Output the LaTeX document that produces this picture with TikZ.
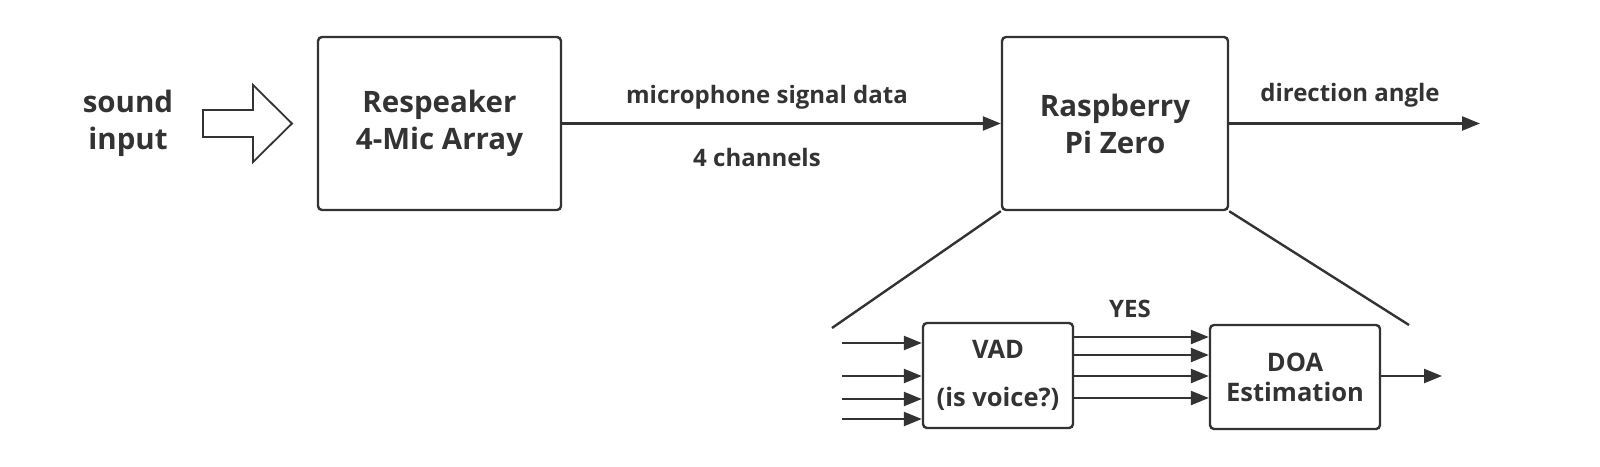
\documentclass[tikz,border=0pt]{standalone}
\usepackage{fontspec}
\setmainfont{Open Sans}
\usepackage{tikz}
\usetikzlibrary{arrows.meta}
\definecolor{ink}{HTML}{333333}

\begin{document}
\begin{tikzpicture}[x=1pt, y=-1pt, line width=2.4pt, draw=ink, text=ink,
		block/.style = {draw, rounded corners=4pt, align=center, font=\bfseries\fontsize{29.5}{37}\selectfont},
		small/.style = {draw, rounded corners=4pt, align=center, font=\bfseries\fontsize{25.5}{30}\selectfont},
		lbl/.style = {font=\bfseries\fontsize{24}{28}\selectfont},
		sig/.style = {-{Triangle[length=18pt, width=14pt]}}]
			\useasboundingbox (0,0) rectangle (1600,466);

			\node [block, minimum width=243, minimum height=173] (resp) at (439.5,123.5) {Respeaker\\4-Mic Array};
			\node [block, minimum width=226, minimum height=173] (rpi) at (1115,123.5) {Raspberry\\Pi Zero};
			\node [align=center, font=\bfseries\fontsize{29.5}{37}\selectfont] (snd) at (128,123.5) {sound\\input};

			\node [small, minimum width=150, minimum height=105, font=\bfseries\fontsize{25.5}{48}\selectfont] (vad) at (998,375.5) {VAD\\(is voice?)};
			\node [small, minimum width=170, minimum height=104] (doa) at (1295,377) {DOA\\Estimation};

			% hollow input arrow
			\draw [line width=1.8pt] (203,110) -- (253,110) -- (253,85) -- (292,123.5) -- (253,162) -- (253,137) -- (203,137) -- cycle;

			\coordinate (out) at (1480,123.5);
			\coordinate (res) at (1442,376);
			\coordinate (zl) at (832,328);
			\coordinate (zr) at (1409,325);

			\begin{scope}[sig]
				\draw (resp) -- (rpi);
				\draw (rpi) -- (out);
				\draw (doa.east |- res) -- (res);
				\foreach \y [count=\i] in {343,376,399,419}
				{
					\coordinate (in\i) at (842,\y);
					\draw (in\i) -- (in\i -| vad.west);
				}
				\foreach \y in {337,355,376,398}
					\draw (vad.east |- 0,\y) -- (doa.west |- 0,\y);
			\end{scope}

			\draw (rpi.south west) -- (zl);
			\draw (rpi.south east) -- (zr);

			\node [lbl] (mic) at (767,97) {microphone signal data};
			\node [lbl] (ch) at (757,157) {4 channels};
			\node [lbl] (dir) at (1350,95) {direction angle};
			\node [lbl] (yes) at (1130,309) {YES};
		\end{tikzpicture}
\end{document}
